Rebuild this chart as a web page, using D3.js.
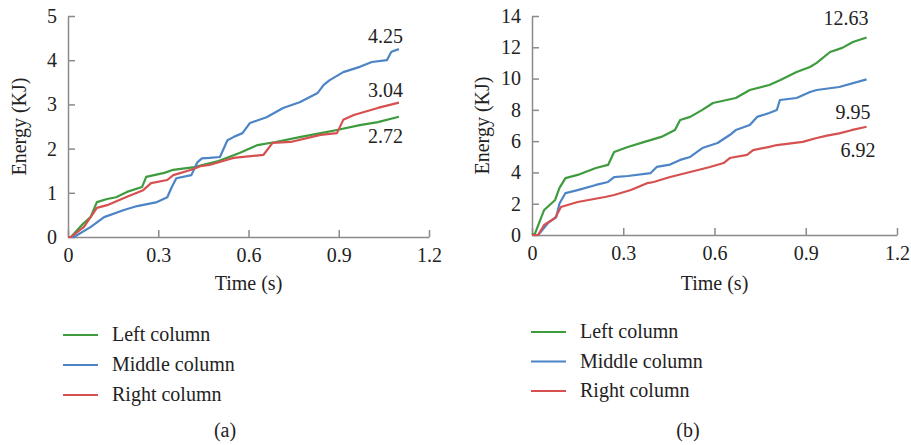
<!DOCTYPE html>
<html>
<head>
<meta charset="utf-8">
<script src="https://cdn.jsdelivr.net/npm/d3@7"></script>
<style>
  body { margin: 0; background: #fff; }
  svg text { font-family: "Liberation Serif", "DejaVu Serif", "Times New Roman", Times, serif !important; fill: #222; }
</style>
</head>
<body>
<script>
// series names and colours
var seriesNames = ["Left column", "Middle column", "Right column"];
var seriesColors = ["#3e9b3e", "#4c84c6", "#d65050"];

// panel (a): [time, energy] pairs
var leftA = [[0,0],[0.01,0],[0.05,0.3],[0.075,0.45],[0.096,0.79],[0.13,0.86],[0.16,0.9],[0.196,1.02],[0.246,1.13],[0.26,1.36],[0.32,1.45],[0.35,1.52],[0.42,1.58],[0.5,1.72],[0.57,1.9],[0.63,2.08],[0.69,2.15],[0.77,2.26],[0.84,2.35],[0.894,2.42],[0.97,2.53],[1.03,2.6],[1.1,2.72]];
var middleA = [[0,0],[0.02,0],[0.076,0.23],[0.12,0.45],[0.186,0.61],[0.23,0.7],[0.296,0.79],[0.33,0.9],[0.345,1.13],[0.36,1.33],[0.41,1.4],[0.43,1.69],[0.445,1.78],[0.47,1.79],[0.505,1.81],[0.53,2.19],[0.55,2.26],[0.58,2.35],[0.605,2.58],[0.66,2.71],[0.715,2.92],[0.77,3.05],[0.83,3.26],[0.85,3.44],[0.87,3.55],[0.915,3.73],[0.97,3.85],[1.01,3.96],[1.06,4.0],[1.075,4.19],[1.1,4.25]];
var rightA = [[0,0],[0.01,0],[0.053,0.23],[0.096,0.66],[0.13,0.72],[0.196,0.91],[0.25,1.06],[0.276,1.22],[0.33,1.29],[0.35,1.4],[0.41,1.52],[0.44,1.6],[0.47,1.63],[0.55,1.79],[0.65,1.86],[0.68,2.13],[0.74,2.15],[0.84,2.31],[0.894,2.35],[0.915,2.65],[0.95,2.76],[1.03,2.92],[1.1,3.04]];

// panel (b)
var leftB = [[0,0],[0.01,0.1],[0.04,1.6],[0.076,2.24],[0.09,3.0],[0.11,3.64],[0.15,3.84],[0.21,4.28],[0.25,4.48],[0.27,5.3],[0.315,5.63],[0.37,5.95],[0.425,6.27],[0.47,6.71],[0.487,7.35],[0.52,7.55],[0.56,8.0],[0.595,8.44],[0.67,8.76],[0.716,9.27],[0.78,9.59],[0.815,9.9],[0.87,10.42],[0.914,10.74],[0.936,11.0],[0.98,11.7],[1.02,11.96],[1.055,12.34],[1.1,12.63]];
var middleB = [[0,0],[0.02,0],[0.053,0.77],[0.08,1.15],[0.09,2.0],[0.11,2.68],[0.15,2.87],[0.21,3.2],[0.25,3.39],[0.27,3.7],[0.315,3.77],[0.39,3.96],[0.41,4.35],[0.454,4.5],[0.487,4.8],[0.52,4.99],[0.56,5.56],[0.61,5.88],[0.65,6.39],[0.67,6.71],[0.716,7.03],[0.74,7.55],[0.78,7.8],[0.805,7.99],[0.815,8.63],[0.87,8.76],[0.914,9.14],[0.936,9.27],[1.01,9.46],[1.1,9.95]];
var rightB = [[0,0],[0.02,0],[0.04,0.64],[0.076,1.09],[0.095,1.79],[0.15,2.11],[0.24,2.43],[0.27,2.56],[0.325,2.88],[0.38,3.32],[0.4,3.39],[0.454,3.71],[0.52,4.03],[0.585,4.35],[0.63,4.6],[0.65,4.92],[0.707,5.12],[0.727,5.43],[0.78,5.63],[0.805,5.75],[0.89,5.95],[0.936,6.2],[0.97,6.35],[1.01,6.5],[1.05,6.7],[1.1,6.92]];

// end-value labels
var labelsA = ["2.72", "4.25", "3.04"];
var labelsB = ["12.63", "9.95", "6.92"];

// tick values
var xTicks = [0, 0.3, 0.6, 0.9, 1.2];
var yTicksA = [0, 1, 2, 3, 4, 5];
var yTicksB = [0, 2, 4, 6, 8, 10, 12, 14];

var svg = d3.select("body").append("svg")
    .attr("width", 911)
    .attr("height", 445)
    .attr("font-family", "Liberation Serif, serif");

function drawPanel(opt) {
  var x = d3.scaleLinear().domain([0, 1.2]).range([opt.left, opt.right]);
  var y = d3.scaleLinear().domain([0, opt.yMax]).range([opt.bottom, opt.top]);
  var g = svg.append("g");

  var xAxis = g.append("g")
      .attr("transform", "translate(0," + opt.bottom + ")")
      .call(d3.axisBottom(x).tickValues(xTicks).tickSizeInner(-7).tickSizeOuter(0)
        .tickFormat(d3.format("")));
  var yAxis = g.append("g")
      .attr("transform", "translate(" + opt.left + ",0)")
      .call(d3.axisLeft(y).tickValues(opt.yTicks).tickSizeInner(-7).tickSizeOuter(0)
        .tickFormat(d3.format("")));

  [xAxis, yAxis].forEach(function(a) {
    a.attr("font-family", null);
    a.selectAll("path, line").attr("stroke", "#8a8a8a").attr("stroke-width", 1.5);
    a.selectAll("text").attr("font-size", 20).attr("fill", "#222");
  });
  xAxis.selectAll("text").attr("y", 11);
  yAxis.selectAll("text").attr("x", -11);

  var line = d3.line()
      .x(function(d) { return x(d[0]); })
      .y(function(d) { return y(d[1]); });

  opt.series.forEach(function(s, i) {
    g.append("path")
        .datum(s)
        .attr("fill", "none")
        .attr("stroke", seriesColors[i])
        .attr("stroke-width", 2.2)
        .attr("stroke-linejoin", "round")
        .attr("d", line);
    var last = s[s.length - 1];
    g.append("text")
        .attr("x", x(last[0]) + opt.labelDx[i])
        .attr("y", y(last[1]) + opt.labelDy[i])
        .attr("text-anchor", "end")
        .attr("font-size", 20)
        .text(opt.labels[i]);
  });

  // axis titles
  g.append("text")
      .attr("transform", "translate(" + opt.yTitleX + "," + ((opt.top + opt.bottom) / 2) + ") rotate(-90)")
      .attr("text-anchor", "middle")
      .attr("font-size", 20)
      .text("Energy (KJ)");
  g.append("text")
      .attr("x", x(0.6))
      .attr("y", opt.xTitleY)
      .attr("text-anchor", "middle")
      .attr("font-size", 20)
      .text("Time (s)");

  // legend
  seriesNames.forEach(function(n, i) {
    var ly = opt.legendY + i * opt.legendGap;
    g.append("line")
        .attr("x1", opt.legendX).attr("x2", opt.legendX + 35)
        .attr("y1", ly).attr("y2", ly)
        .attr("stroke", seriesColors[i]).attr("stroke-width", 1.8);
    g.append("text")
        .attr("x", opt.legendX + 49)
        .attr("y", ly + 6)
        .attr("font-size", 20)
        .text(n);
  });

  g.append("text")
      .attr("x", opt.captionX)
      .attr("y", 437)
      .attr("text-anchor", "middle")
      .attr("font-size", 20)
      .text(opt.caption);
}

drawPanel({
  left: 68, right: 429, top: 16, bottom: 237, yMax: 5, yTicks: yTicksA,
  series: [leftA, middleA, rightA], labels: labelsA,
  labelDx: [4, 4, 4], labelDy: [26, -6, -6],
  yTitleX: 26, xTitleY: 290,
  legendX: 63, legendY: 335, legendGap: 30,
  captionX: 225, caption: "(a)"
});

drawPanel({
  left: 532, right: 897, top: 16, bottom: 235, yMax: 14, yTicks: yTicksB,
  series: [leftB, middleB, rightB], labels: labelsB,
  labelDx: [2, 4, 9], labelDy: [-12, 40, 30],
  yTitleX: 489, xTitleY: 290,
  legendX: 531, legendY: 332, legendGap: 29.5,
  captionX: 688, caption: "(b)"
});
</script>
</body>
</html>
